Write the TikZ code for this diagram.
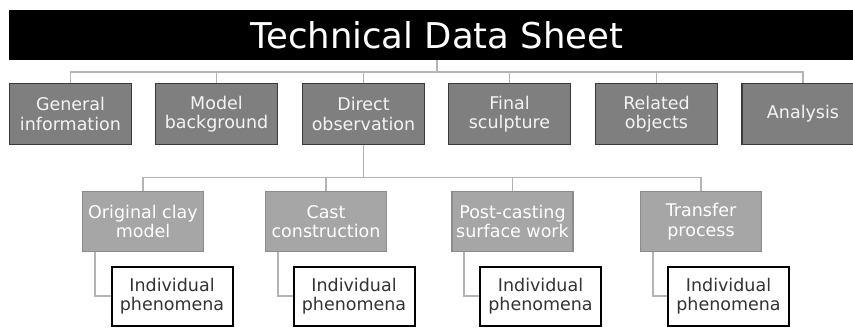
\documentclass[tikz,border=0pt]{standalone}
\usepackage{fontspec}
\setmainfont{DejaVu Sans}
\definecolor{darkbox}{HTML}{7F7F7F}
\definecolor{darkedge}{HTML}{3A3A3A}
\definecolor{lightbox}{HTML}{A6A6A6}
\definecolor{lightedge}{HTML}{8C8C8C}
\definecolor{linkgray}{HTML}{B4B4B4}
\definecolor{boxtext}{HTML}{F4F4F4}
\definecolor{leaftext}{HTML}{333333}
\begin{document}
\begin{tikzpicture}[x=1pt,y=-1pt,
  titlebar/.style={fill=black,draw=none,minimum width=856pt,minimum height=50pt,inner sep=0pt,
    text=white,font=\fontsize{35.5}{38}\selectfont},
  topbox/.style={fill=darkbox,draw=darkedge,line width=1.8pt,minimum width=122pt,minimum height=61pt,
    inner sep=0pt,text=boxtext,align=center,font=\fontsize{17.5}{19.5}\selectfont},
  subbox/.style={fill=lightbox,draw=lightedge,line width=1.5pt,minimum width=121pt,minimum height=60pt,
    inner sep=0pt,text=white,align=center,font=\fontsize{17.5}{19.5}\selectfont},
  leafbox/.style={fill=white,draw=black,line width=2pt,minimum width=121pt,minimum height=59pt,
    inner sep=0pt,text=leaftext,align=center,font=\fontsize{17.5}{19.5}\selectfont},
  conn/.style={draw=linkgray,line width=1.6pt}]
\useasboundingbox (0,0) rectangle (853,329);
\clip (0,0) rectangle (853,329);

% title bar
\node[titlebar] (title) at (437,35) {Technical Data Sheet};

% first level
\node[topbox] (gen) at (70.5,114) {General\\information};
\node[topbox] (mod) at (216.5,114) {Model\\background};
\node[topbox] (dir) at (363.5,114) {Direct\\observation};
\node[topbox] (fin) at (509.5,114) {Final\\sculpture};
\node[topbox] (rel) at (656.5,114) {Related\\objects};
\node[topbox] (ana) at (803,114) {Analysis};

% second level
\node[subbox] (clay) at (143,221.5) {Original clay\\model};
\node[subbox] (cast) at (326,221.5) {Cast\\construction};
\node[subbox] (post) at (512.5,221.5) {Post-casting\\surface work};
\node[subbox] (tran) at (701,221.5) {Transfer\\process};

% leaves
\node[leafbox] (p1) at (172,296) {Individual\\phenomena};
\node[leafbox] (p2) at (354,296) {Individual\\phenomena};
\node[leafbox] (p3) at (540.5,296) {Individual\\phenomena};
\node[leafbox] (p4) at (728.5,296) {Individual\\phenomena};

% connectors
\begin{scope}[on background layer/.try]
\foreach \b in {gen,mod,dir,fin,rel,ana}
  \draw[conn] (title.south) -- (title.south |- 0,72) -| (\b.north);
\foreach \b in {clay,cast,post,tran}
  \draw[conn] (dir.south) -- (dir.south |- 0,177.5) -| (\b.north);
\draw[conn] ([xshift=13pt]clay.south west) |- (p1.west);
\draw[conn] ([xshift=13pt]cast.south west) |- (p2.west);
\draw[conn] ([xshift=13pt]post.south west) |- (p3.west);
\draw[conn] ([xshift=13pt]tran.south west) |- (p4.west);
\end{scope}
\end{tikzpicture}
\end{document}
